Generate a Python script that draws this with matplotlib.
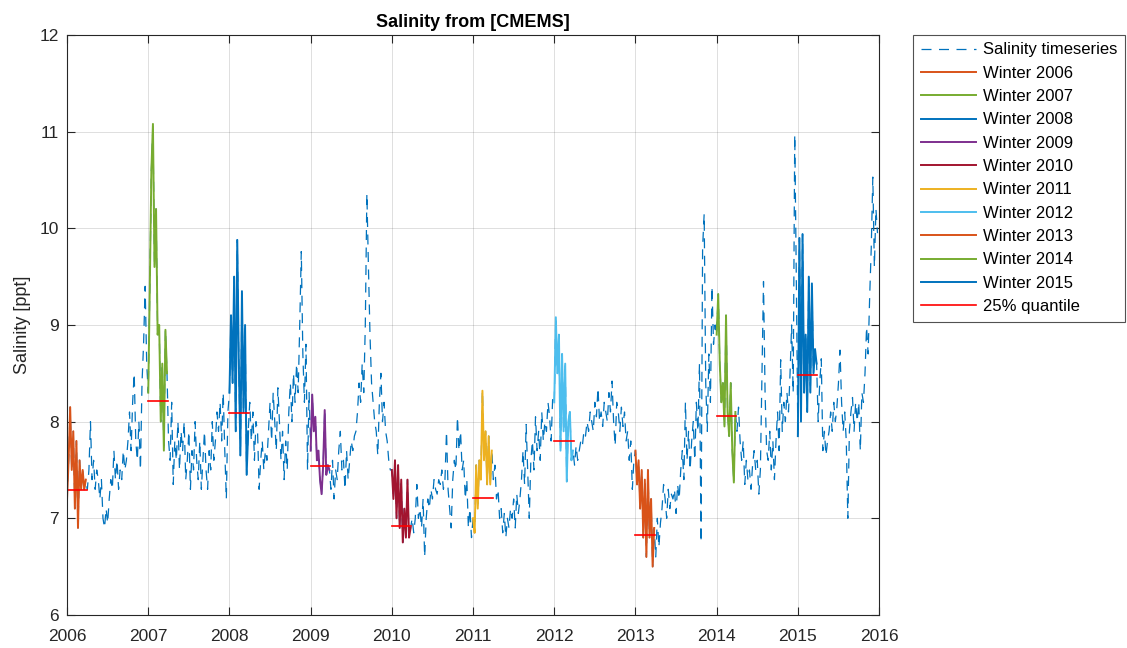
import numpy as np
import matplotlib
matplotlib.use("Agg")
import matplotlib.pyplot as plt

plt.rcParams["font.family"] = ["Liberation Sans", "DejaVu Sans"]

years = list(range(2006, 2016))

# salinity readings per year, 52 values each (first 12 = Jan-Mar)
sal = {
    2006: [7.2, 7.6, 8.15, 7.5, 7.9, 7.1, 7.8, 6.9, 7.6, 7.3, 7.5, 7.3,
           7.4, 7.3, 7.5, 8.0, 7.4, 7.6, 7.3, 7.5, 7.4, 7.2, 7.4,
           7.0, 6.9, 7.1, 6.95, 7.2, 7.4, 7.3, 7.7,
           7.4, 7.6, 7.3, 7.5, 7.4, 7.7, 7.5, 7.6, 7.8,
           8.1, 7.7, 8.2, 8.5, 7.8, 7.6, 8.0, 7.5, 8.4, 8.8, 9.4, 8.6],
    2007: [8.3, 9.4, 10.6, 11.08, 9.6, 10.2, 8.9, 9.0, 8.0, 8.6, 7.7, 8.95,
           8.5, 7.8, 7.6, 8.2, 7.35, 7.8, 7.6, 8.0, 7.5, 7.9,
           7.7, 8.0, 7.4, 7.6, 7.9, 7.3, 7.7, 7.5, 8.0, 7.6,
           7.4, 7.8, 7.3, 7.6, 7.9, 7.5, 7.3, 7.7, 7.5, 8.0,
           7.6, 7.8, 8.1, 7.9, 8.2, 7.8, 8.3, 7.7, 7.2, 8.1],
    2008: [8.3, 9.1, 8.4, 9.5, 7.9, 9.88, 8.6, 7.65, 9.35, 8.1, 9.0, 7.45,
           7.9, 8.2, 7.8, 8.1, 7.6, 8.0, 7.9, 7.3,
           7.6, 7.8, 7.5, 7.7, 7.6,
           7.9, 8.2, 7.8, 8.3, 8.0, 7.7, 8.35, 8.0,
           7.6, 7.9, 7.4, 7.8, 7.5,
           8.1, 8.4, 8.0, 8.5, 8.2, 8.6, 8.3, 9.0, 9.76, 8.7, 8.2, 8.8, 7.5, 8.3],
    2009: [7.7, 8.28, 7.9, 8.05, 7.6, 7.7, 7.4, 7.25, 7.55, 8.12, 7.45, 7.55,
           7.5, 7.3, 7.6, 7.2, 7.5, 7.4,
           7.7, 7.9, 7.5, 7.6, 7.3, 7.7, 7.4, 7.6,
           7.8, 7.7, 7.85, 7.9, 8.1, 8.4, 8.2,
           8.6, 8.3, 9.0, 10.36, 9.6,
           8.9, 8.4, 8.2, 8.0, 7.9, 7.65, 8.2, 8.5, 8.0, 8.2, 7.9, 7.8, 7.6, 7.5],
    2010: [7.5, 7.2, 7.6, 7.0, 7.55, 6.9, 7.4, 6.75, 7.1, 6.8, 7.4, 6.8,
           6.9, 7.0, 6.85, 7.0, 7.35,
           7.0, 7.1, 6.9, 7.2, 6.6, 7.0,
           7.2, 7.1, 7.3, 7.2, 7.4, 7.3, 7.25, 7.4,
           7.35, 7.5, 7.3, 7.4, 7.9, 7.3, 7.1, 6.9,
           7.4, 7.6, 7.5, 8.05, 7.7, 7.9, 7.5, 7.6, 7.2, 7.4, 6.9, 7.1, 6.8],
    2011: [7.0, 6.85, 7.55, 7.1, 7.6, 7.4, 8.32, 7.6, 7.9, 7.35, 7.85, 7.35,
           7.7, 7.4, 7.55, 7.2, 7.3,
           7.0, 7.1, 6.85, 7.05, 6.8, 7.0, 6.9,
           7.1, 7.0, 7.2, 6.9, 7.25, 7.05, 7.2,
           7.4, 7.7, 7.35, 7.97, 7.5, 7.0,
           7.6, 7.8, 7.5, 8.05, 7.7, 7.9, 7.6, 8.1, 7.8, 8.0, 7.9, 8.2, 8.05, 7.8, 8.25],
    2012: [8.2, 9.08, 8.5, 8.9, 7.7, 8.7, 7.9, 8.6, 7.38, 8.0, 8.1, 7.6,
           7.7, 7.55, 7.75, 7.6, 7.7,
           7.8, 7.75, 7.9, 7.85, 8.0, 7.9, 8.1,
           8.0, 7.9, 8.2, 8.05, 8.35, 8.0, 8.1, 7.95, 8.2, 8.1,
           8.0, 8.3, 8.1, 8.42, 8.0, 7.75, 8.2, 8.1, 7.9, 8.15,
           7.95, 8.1, 7.8, 7.9, 7.6, 7.8, 7.3, 7.6],
    2013: [7.7, 7.35, 7.6, 7.1, 7.5, 6.8, 7.4, 6.6, 7.5, 6.8, 7.2, 6.5,
           6.9, 6.6, 7.0, 6.7, 6.95,
           7.1, 7.35, 7.2, 7.0, 7.3, 7.1, 7.25,
           7.2, 7.3, 7.05, 7.35, 7.2,
           7.5, 7.7, 7.4, 8.2, 7.6, 7.9, 7.5, 7.8,
           8.0, 7.6, 8.2, 7.9,
           8.6, 6.75, 9.8, 10.15, 8.4, 7.9, 8.7, 8.2, 9.4, 8.8, 9.0],
    2014: [8.9, 9.32, 8.6, 8.2, 8.4, 7.95, 9.1, 8.1, 7.85, 8.4, 7.7, 7.37,
           8.1, 7.9, 8.15, 7.8,
           7.6, 7.8, 7.35, 7.6,
           7.4, 7.5, 7.3, 7.55,
           7.7, 7.5, 7.6, 7.25, 7.5,
           8.5, 9.45, 8.3, 7.7,
           7.6, 7.9, 7.5, 7.8, 7.4,
           7.8, 8.1, 7.7, 8.64, 7.9, 8.2,
           8.0, 8.3, 8.1, 8.5, 9.0, 8.3, 10.97, 9.5],
    2015: [7.85, 9.9, 8.0, 9.94, 8.3, 8.9, 8.1, 9.5, 8.3, 9.43, 8.5, 8.75,
           8.6, 8.0, 8.4, 8.65,
           7.7, 7.9, 7.65, 7.8, 7.9,
           8.1, 7.9, 8.2, 8.0, 8.15,
           8.4, 8.74, 8.2, 7.9,
           8.1, 7.8, 7.0, 7.9,
           8.1, 8.25, 7.9, 8.2, 8.0, 8.2,
           7.7, 8.3, 8.2, 8.5,
           8.98, 8.7, 9.3, 9.8, 10.53, 9.6, 10.2, 9.95],
}

q25 = [7.29, 8.21, 8.09, 7.54, 6.92, 7.21, 7.80, 6.83, 8.06, 8.48]

winter_colors = ["#D95319", "#77AC30", "#0072BD", "#7E2F8E", "#A2142F",
                 "#EDB120", "#4DBEEE", "#D95319", "#77AC30", "#0072BD"]

t_all, s_all = [], []
for y in years:
    n = len(sal[y])
    t_all.append(y + np.arange(n) / n)
    s_all.append(np.array(sal[y]))
t_all = np.concatenate(t_all)
s_all = np.concatenate(s_all)

fig = plt.figure(figsize=(11.27, 6.48), dpi=100)
ax = fig.add_axes([0.0595, 0.051, 0.7205, 0.895])

ax.plot(t_all, s_all, color="#0072BD", lw=0.9, linestyle=(0, (8, 6)),
        label="Salinity timeseries")

for i, y in enumerate(years):
    m = (t_all >= y) & (t_all < y + 0.25)
    ax.plot(t_all[m], s_all[m], color=winter_colors[i], lw=1.4,
            label=f"Winter {y}")

for i, y in enumerate(years):
    ax.plot([y, y + 0.24], [q25[i], q25[i]], color="red", lw=1.2,
            label="25% quantile" if i == 0 else None)

ax.set_xlim(2006, 2016)
ax.set_ylim(6, 12)
ax.set_xticks(range(2006, 2017))
ax.set_yticks(range(6, 13))
ax.tick_params(direction="in", top=True, right=True, labelsize=12.5,
               color="#262626", labelcolor="#262626", length=6, pad=6)
ax.tick_params(axis="x", pad=10)
ax.grid(True, color="#262626", alpha=0.15, lw=0.7)
for sp in ax.spines.values():
    sp.set_color("#262626")
    sp.set_linewidth(0.8)

ax.set_ylabel("Salinity [ppt]", fontsize=13, color="#262626", labelpad=6)
ax.set_title("Salinity from [CMEMS]", fontsize=13, fontweight="bold", pad=6)

leg = ax.legend(loc="upper left", bbox_to_anchor=(1.042, 1.0), fontsize=12,
                frameon=True, fancybox=False, borderaxespad=0,
                handlelength=3.3, handletextpad=0.45, labelspacing=0.5,
                borderpad=0.45)
leg.get_frame().set_edgecolor("#262626")
leg.get_frame().set_linewidth(0.8)

fig.savefig("out.png", dpi=100)
